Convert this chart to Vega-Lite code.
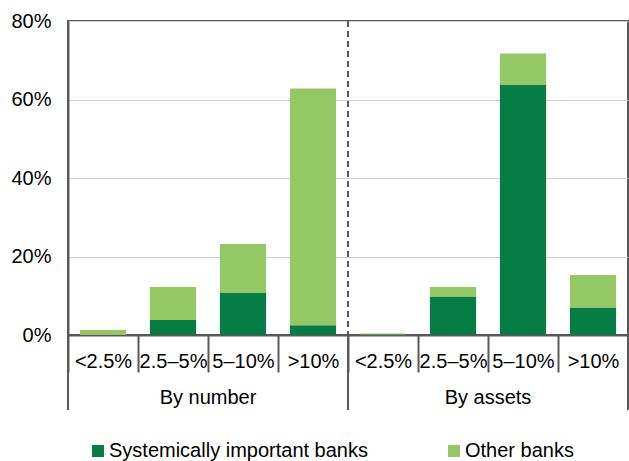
{
  "$schema": "https://vega.github.io/schema/vega-lite/v6.json",
  "width": 560,
  "height": 314,
  "autosize": {"type": "none"},
  "padding": {"left": 68, "top": 21, "right": 1, "bottom": 126},
  "config": {
    "font": "Liberation Sans",
    "view": {"stroke": "#595959", "strokeWidth": 2}
  },
  "datasets": {
    "bars": [
      {"key": "N|<2.5%", "group": "By number", "type": "Systemically important banks", "value": 0.0},
      {"key": "N|<2.5%", "group": "By number", "type": "Other banks", "value": 0.013},
      {"key": "N|2.5–5%", "group": "By number", "type": "Systemically important banks", "value": 0.038},
      {"key": "N|2.5–5%", "group": "By number", "type": "Other banks", "value": 0.084},
      {"key": "N|5–10%", "group": "By number", "type": "Systemically important banks", "value": 0.107},
      {"key": "N|5–10%", "group": "By number", "type": "Other banks", "value": 0.125},
      {"key": "N|>10%", "group": "By number", "type": "Systemically important banks", "value": 0.025},
      {"key": "N|>10%", "group": "By number", "type": "Other banks", "value": 0.603},
      {"key": "A|<2.5%", "group": "By assets", "type": "Systemically important banks", "value": 0.001},
      {"key": "A|<2.5%", "group": "By assets", "type": "Other banks", "value": 0.003},
      {"key": "A|2.5–5%", "group": "By assets", "type": "Systemically important banks", "value": 0.098},
      {"key": "A|2.5–5%", "group": "By assets", "type": "Other banks", "value": 0.024},
      {"key": "A|5–10%", "group": "By assets", "type": "Systemically important banks", "value": 0.637},
      {"key": "A|5–10%", "group": "By assets", "type": "Other banks", "value": 0.08},
      {"key": "A|>10%", "group": "By assets", "type": "Systemically important banks", "value": 0.07},
      {"key": "A|>10%", "group": "By assets", "type": "Other banks", "value": 0.083}
    ],
    "groups": [
      {"key": "N|5–10%", "label": "By number"},
      {"key": "A|5–10%", "label": "By assets"}
    ],
    "sep": [{"key": "A|<2.5%"}],
    "leftEdges": [{"key": "N|<2.5%"}, {"key": "A|<2.5%"}],
    "rightEdges": [{"key": "A|>10%"}]
  },
  "layer": [
    {
      "data": {"name": "bars"},
      "mark": {"type": "bar", "width": {"band": 0.66}},
      "encoding": {
        "x": {
          "field": "key",
          "type": "nominal",
          "scale": {
            "domain": ["N|<2.5%", "N|2.5–5%", "N|5–10%", "N|>10%", "A|<2.5%", "A|2.5–5%", "A|5–10%", "A|>10%"],
            "paddingInner": 0,
            "paddingOuter": 0
          },
          "axis": {
            "title": null,
            "labelExpr": "split(datum.value, '|')[1]",
            "labelAngle": 0,
            "labelOverlap": false,
            "tickBand": "extent",
            "tickSize": 37,
            "tickColor": "#595959",
            "tickWidth": 2,
            "domainColor": "#595959",
            "domainWidth": 2,
            "labelFontSize": 20,
            "labelColor": "#000000",
            "labelPadding": -21,
            "grid": false
          }
        },
        "y": {
          "field": "value",
          "type": "quantitative",
          "stack": "zero",
          "scale": {"domain": [0, 0.8], "nice": false},
          "axis": {
            "title": null,
            "format": ".0%",
            "values": [0, 0.2, 0.4, 0.6, 0.8],
            "labelFontSize": 20,
            "labelColor": "#000000",
            "labelPadding": 17,
            "tickSize": 0,
            "domainColor": "#595959",
            "domainWidth": 2,
            "gridColor": "#d0d0d0",
            "gridWidth": 1
          }
        },
        "color": {
          "field": "type",
          "type": "nominal",
          "sort": ["Systemically important banks", "Other banks"],
          "scale": {
            "domain": ["Systemically important banks", "Other banks"],
            "range": ["#077D46", "#93C864"]
          },
          "legend": {
            "title": null,
            "orient": "none",
            "legendX": 20,
            "legendY": 420,
            "direction": "horizontal",
            "symbolType": "square",
            "symbolSize": 144,
            "symbolStrokeWidth": 0,
            "labelFontSize": 20,
            "labelColor": "#000000",
            "labelLimit": 400,
            "labelOffset": 1,
            "columnPadding": 76
          }
        }
      }
    },
    {
      "data": {"name": "sep"},
      "mark": {"type": "rule", "strokeDash": [6, 4], "color": "#595959", "strokeWidth": 2},
      "encoding": {
        "x": {"field": "key", "type": "nominal", "bandPosition": 0},
        "y": {"datum": 0.8},
        "y2": {"datum": 0}
      }
    },
    {
      "data": {"name": "leftEdges"},
      "mark": {"type": "rule", "color": "#595959", "strokeWidth": 2},
      "encoding": {
        "x": {"field": "key", "type": "nominal", "bandPosition": 0},
        "y": {"datum": 0},
        "y2": {"datum": -0.191}
      }
    },
    {
      "data": {"name": "rightEdges"},
      "mark": {"type": "rule", "color": "#595959", "strokeWidth": 2},
      "encoding": {
        "x": {"field": "key", "type": "nominal", "bandPosition": 1},
        "y": {"datum": 0},
        "y2": {"datum": -0.191}
      }
    },
    {
      "data": {"name": "groups"},
      "mark": {"type": "text", "fontSize": 20, "color": "#000000", "baseline": "middle", "align": "center"},
      "encoding": {
        "x": {"field": "key", "type": "nominal", "bandPosition": 0},
        "y": {"datum": -0.16},
        "text": {"field": "label"}
      }
    }
  ]
}
